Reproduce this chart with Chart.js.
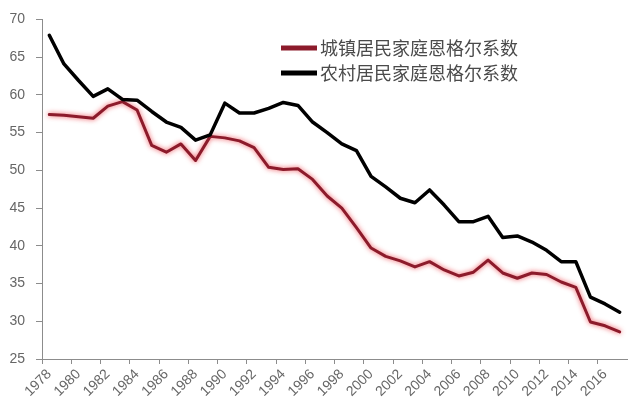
<!DOCTYPE html>
<html>
<head>
<meta charset="utf-8">
<script src="https://cdn.jsdelivr.net/npm/chart.js@4"></script>
<style>
  html, body { margin: 0; padding: 0; background: #fff; }
  #wrap { width: 640px; height: 416px; }
</style>
</head>
<body>
<div id="wrap"><canvas id="myChart" width="640" height="416"></canvas></div>
<script>
// years on the x axis
let years = ['1978','1979','1980','1981','1982','1983','1984','1985','1986','1987',
             '1988','1989','1990','1991','1992','1993','1994','1995','1996','1997',
             '1998','1999','2000','2001','2002','2003','2004','2005','2006','2007',
             '2008','2009','2010','2011','2012','2013','2014','2015','2016','2017'];

// 城镇居民家庭恩格尔系数
let urban = [57.4, 57.3, 57.1, 56.9, 58.5, 59.1, 58.0, 53.3, 52.4, 53.5,
             51.3, 54.5, 54.3, 53.9, 53.0, 50.4, 50.1, 50.2, 48.8, 46.6,
             45.0, 42.4, 39.7, 38.6, 38.0, 37.2, 37.9, 36.8, 36.0, 36.5,
             38.1, 36.4, 35.7, 36.4, 36.2, 35.2, 34.5, 29.9, 29.4, 28.6];

// 农村居民家庭恩格尔系数
let rural = [67.9, 64.1, 61.9, 59.8, 60.8, 59.4, 59.3, 57.8, 56.4, 55.7,
             54.0, 54.7, 58.9, 57.6, 57.6, 58.2, 59.0, 58.6, 56.4, 55.0,
             53.5, 52.6, 49.2, 47.8, 46.3, 45.7, 47.4, 45.4, 43.2, 43.2,
             43.9, 41.1, 41.3, 40.5, 39.4, 37.9, 37.9, 33.2, 32.3, 31.2];

let seriesNames = ['城镇居民家庭恩格尔系数', '农村居民家庭恩格尔系数'];
let yMin = 25, yMax = 70, yStep = 5;

const axisGray = '#8c8c8c';
const labelGray = '#666666';

// red line has a soft red halo in the picture
const glow = {
  id: 'glow',
  beforeDatasetDraw(chart, args) {
    if (args.index === 0) {
      chart.ctx.save();
      chart.ctx.shadowColor = 'rgba(235,40,50,0.8)';
      chart.ctx.shadowBlur = 5;
    }
  },
  afterDatasetDraw(chart, args) {
    if (args.index === 0) chart.ctx.restore();
  }
};

// legend sits inside the plot, top right
const innerLegend = {
  id: 'innerLegend',
  afterDraw(chart) {
    let ctx = chart.ctx;
    ctx.save();
    chart.data.datasets.forEach((ds, i) => {
      let y = 48 + i * 25;
      ctx.strokeStyle = ds.borderColor;
      ctx.lineWidth = 5;
      ctx.beginPath();
      ctx.moveTo(281, y);
      ctx.lineTo(317, y);
      ctx.stroke();
      ctx.fillStyle = '#4a4a4a';
      ctx.font = '18px "Noto Sans CJK SC"';
      ctx.textBaseline = 'middle';
      ctx.textAlign = 'left';
      ctx.fillText(ds.label, 320, y);
    });
    ctx.restore();
  }
};

let ctx = document.getElementById('myChart').getContext('2d');
let chart = new Chart(ctx, {
  type: 'line',
  data: {
    labels: years,
    datasets: [{
      label: seriesNames[0],
      data: urban,
      borderColor: '#8c1b2b',
      borderWidth: 3,
      order: 2
    }, {
      label: seriesNames[1],
      data: rural,
      borderColor: '#000000',
      borderWidth: 3.5,
      order: 1
    }]
  },
  options: {
    responsive: false,
    animation: false,
    devicePixelRatio: 1,
    layout: { padding: { top: 18, right: 13, left: 0, bottom: 0 } },
    elements: {
      point: { radius: 0 },
      line: { tension: 0, borderCapStyle: 'round', borderJoinStyle: 'round' }
    },
    plugins: {
      legend: { display: false },
      tooltip: { enabled: false }
    },
    scales: {
      x: {
        type: 'category',
        offset: true,
        afterFit(scale) { scale.height = 57; },
        border: { color: axisGray, width: 1 },
        grid: {
          offset: true,
          drawOnChartArea: false,
          drawTicks: true,
          tickLength: 5,
          color: c => (c.index % 2 === 0 ? axisGray : 'rgba(0,0,0,0)')
        },
        ticks: {
          autoSkip: false,
          maxRotation: 45,
          minRotation: 45,
          padding: 2,
          color: labelGray,
          font: { family: '"Liberation Sans", Arial', size: 14 },
          callback: (v, i) => (i % 2 === 0 ? years[i] : '')
        }
      },
      y: {
        min: yMin,
        max: yMax,
        afterFit(scale) { scale.width = 42; },
        border: { color: axisGray, width: 1 },
        grid: {
          drawOnChartArea: false,
          drawTicks: true,
          tickLength: 6,
          color: axisGray
        },
        ticks: {
          stepSize: yStep,
          padding: 11,
          color: labelGray,
          font: { family: '"Liberation Sans", Arial', size: 14 }
        }
      }
    }
  },
  plugins: [glow, innerLegend]
});
</script>
</body>
</html>
